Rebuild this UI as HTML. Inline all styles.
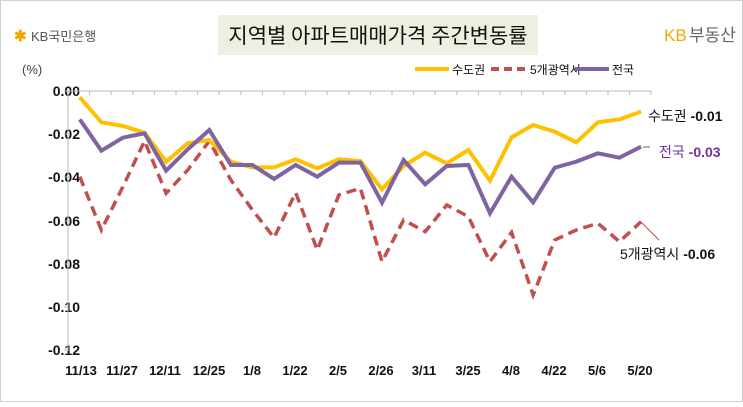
<!DOCTYPE html>
<html><head><meta charset="utf-8"><style>
body{margin:0;width:743px;height:402px;background:#fff;overflow:hidden;font-family:"Liberation Sans","Noto Sans CJK KR",sans-serif}
</style></head><body>
<svg width="743" height="402" xmlns="http://www.w3.org/2000/svg" font-family="Liberation Sans, Noto Sans CJK KR, sans-serif">
<rect x="0.5" y="0.5" width="742" height="401" fill="#fff" stroke="#d0d0d0"/>
<rect x="218" y="15" width="320" height="40" fill="#ebf0e1"/>
<text x="378" y="43" font-size="21" text-anchor="middle" fill="#111" font-family="Noto Sans CJK KR, sans-serif">지역별 아파트매매가격 주간변동률</text>
<text x="14" y="41" font-size="15" fill="#f0a800" font-weight="bold">✱</text>
<text x="31" y="41" font-size="13" fill="#555">KB국민은행</text>
<text x="664" y="41" font-size="17" fill="#f0a800">KB</text>
<text x="689" y="41" font-size="17" fill="#666" font-family="Noto Sans CJK KR, sans-serif">부동산</text>
<text x="22" y="74" font-size="13" fill="#444">(%)</text>
<g font-size="12" fill="#111">
<line x1="415" y1="69" x2="449" y2="69" stroke="#ffc000" stroke-width="4"/><text x="452" y="74">수도권</text>
<line x1="491" y1="69" x2="527" y2="69" stroke="#c0504d" stroke-width="4" stroke-dasharray="8,5"/><text x="530" y="74">5개광역시</text>
<line x1="575" y1="69" x2="609" y2="69" stroke="#8064a2" stroke-width="4"/><text x="612" y="74">전국</text>
</g>
<g font-size="14" font-weight="bold" fill="#111" text-anchor="end">
<text x="80" y="96">0.00</text><text x="80" y="139">-0.02</text><text x="80" y="182">-0.04</text><text x="80" y="226">-0.06</text><text x="80" y="269">-0.08</text><text x="80" y="312">-0.10</text><text x="80" y="355">-0.12</text>
</g>
<g stroke="#bbb" stroke-width="1">
<line x1="68" y1="91" x2="68" y2="351"/>
<line x1="64" y1="91" x2="651" y2="91"/>
<line x1="64" y1="134" x2="68" y2="134"/><line x1="64" y1="177" x2="68" y2="177"/><line x1="64" y1="221" x2="68" y2="221"/><line x1="64" y1="264" x2="68" y2="264"/><line x1="64" y1="307" x2="68" y2="307"/><line x1="64" y1="350" x2="68" y2="350"/>
<path d="M89.6 91v4M111.2 91v4M132.8 91v4M154.4 91v4M176 91v4M197.6 91v4M219.2 91v4M240.8 91v4M262.4 91v4M284 91v4M305.6 91v4M327.2 91v4M348.8 91v4M370.4 91v4M392 91v4M413.6 91v4M435.2 91v4M456.8 91v4M478.4 91v4M500 91v4M521.6 91v4M543.2 91v4M564.8 91v4M586.4 91v4M608 91v4M629.6 91v4M651 91v4"/>
</g>
<g transform="translate(60,80) scale(0.3954,0.3333)" fill="none" stroke-linejoin="miter">
<polyline vector-effect="non-scaling-stroke" stroke="#c0504d" stroke-width="3.5" stroke-dasharray="10,6" points="50,290 104.6,450 159.2,320 213.8,183 268.4,340 323,270 377.6,183 432.2,300 486.8,390 541.4,473 596,338 650.6,510 705.2,345 759.8,325 814.4,545 869,420 923.6,455 978.2,375 1032.8,410 1087.4,545 1142,457 1196.6,645 1251.2,480 1305.8,450 1360.4,430 1415,485 1469.6,425"/>
<polyline vector-effect="non-scaling-stroke" stroke="#ffc000" stroke-width="4" points="50,52 104.6,127 159.2,138 213.8,158 268.4,245 323,190 377.6,180 432.2,245 486.8,262 541.4,262 596,238 650.6,265 705.2,238 759.8,243 814.4,328 869,258 923.6,218 978.2,250 1032.8,210 1087.4,302 1142,172 1196.6,135 1251.2,155 1305.8,187 1360.4,127 1415,118 1469.6,95"/>
<polyline vector-effect="non-scaling-stroke" stroke="#8064a2" stroke-width="4" points="50,118 104.6,212 159.2,173 213.8,160 268.4,272 323,208 377.6,150 432.2,255 486.8,255 541.4,297 596,255 650.6,290 705.2,248 759.8,248 814.4,368 869,240 923.6,313 978.2,258 1032.8,255 1087.4,400 1142,290 1196.6,367 1251.2,263 1305.8,245 1360.4,220 1415,233 1469.6,200"/>
</g>
<line x1="641" y1="222" x2="659" y2="240" stroke="#c0504d" stroke-width="1"/>
<line x1="643" y1="147" x2="650" y2="147" stroke="#666" stroke-width="1"/>
<g font-size="14" fill="#111">
<text x="648" y="121">수도권 <tspan font-weight="bold">-0.01</tspan></text>
<text x="659" y="157" fill="#7030a0">전국 <tspan font-weight="bold">-0.03</tspan></text>
<text x="620" y="259">5개광역시 <tspan font-weight="bold">-0.06</tspan></text>
</g>
<g font-size="13" font-weight="bold" fill="#111" text-anchor="middle">
<text x="81" y="375">11/13</text><text x="122" y="375">11/27</text><text x="165" y="375">12/11</text><text x="209" y="375">12/25</text><text x="252" y="375">1/8</text><text x="295" y="375">1/22</text><text x="338" y="375">2/5</text><text x="381" y="375">2/26</text><text x="424" y="375">3/11</text><text x="468" y="375">3/25</text><text x="511" y="375">4/8</text><text x="554" y="375">4/22</text><text x="597" y="375">5/6</text><text x="640" y="375">5/20</text>
</g>
</svg>
</body></html>
